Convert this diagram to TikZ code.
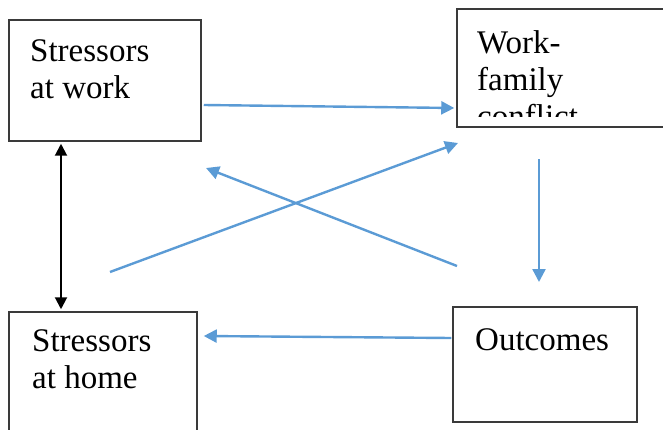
\documentclass[tikz,border=0pt]{standalone}
\usepackage{fontspec}
\setmainfont{Liberation Serif}
\usetikzlibrary{arrows.meta}
\definecolor{flowblue}{HTML}{5B9BD5}
\definecolor{boxgray}{HTML}{3A3A3A}

\begin{document}
\begin{tikzpicture}[x=1pt, y=1pt,
        box/.style={draw=boxgray, line width=1.5pt, minimum width=#1, inner sep=0pt},
        boxtext/.style={anchor=north west, inner sep=0pt, align=left, font=\fontsize{33}{37}\selectfont},
        flow/.style={draw=flowblue, line width=2.4pt, -{Triangle[length=13pt,width=13pt]}},
        link/.style={draw=black, line width=2pt, {Triangle[length=12pt,width=12pt]}-{Triangle[length=12pt,width=12pt]}}]
        % Definizioni
        \clip (0,0) rectangle (663,429);

        % --- Riquadri ---
        \node[box=192pt, minimum height=121pt] (work) at (105,348.5) {};
        \node[box=220pt, minimum height=118pt] (wfc) at (567,361) {};
        \node[box=188pt, minimum height=128pt] (home) at (103,53) {};
        \node[box=184pt, minimum height=115pt] (outcomes) at (545,64.5) {};

        % Testi nei riquadri
        \node[boxtext] (worktext) at (30,390) {Stressors\\at work};
        \node[boxtext] (hometext) at (32,100) {Stressors\\at home};
        \node[boxtext] (outtext) at (475,101) {Outcomes};
        \begin{scope}
            \clip (458,312) rectangle (663,419);
            \node[boxtext] (wfctext) at (477,399) {Work-\\family\\conflict};
        \end{scope}

        % --- Estremi liberi delle frecce ---
        \coordinate (outtail) at (457,163);
        \coordinate (workhead) at (206,261);
        \coordinate (hometail) at (110,157);
        \coordinate (wfchead) at (458,286);
        \coordinate (wfctail) at (539,270);
        \coordinate (outhead) at (539,147);

        % --- Frecce ---
        \draw[flow] ([xshift=2pt,yshift=-24.5pt]work.east) -- ([xshift=-2pt,yshift=-40pt]wfc.west);
        \draw[flow] (outtail) -- (workhead);
        \draw[flow] (hometail) -- (wfchead);
        \draw[flow] (wfctail) -- (outhead);
        \draw[flow] ([xshift=-1pt,yshift=26.5pt]outcomes.west) -- ([xshift=6pt,yshift=40pt]home.east);
        \draw[link] ([xshift=-44pt,yshift=-2pt]work.south) -- ([xshift=-42pt,yshift=2pt]home.north);
\end{tikzpicture}
\end{document}
